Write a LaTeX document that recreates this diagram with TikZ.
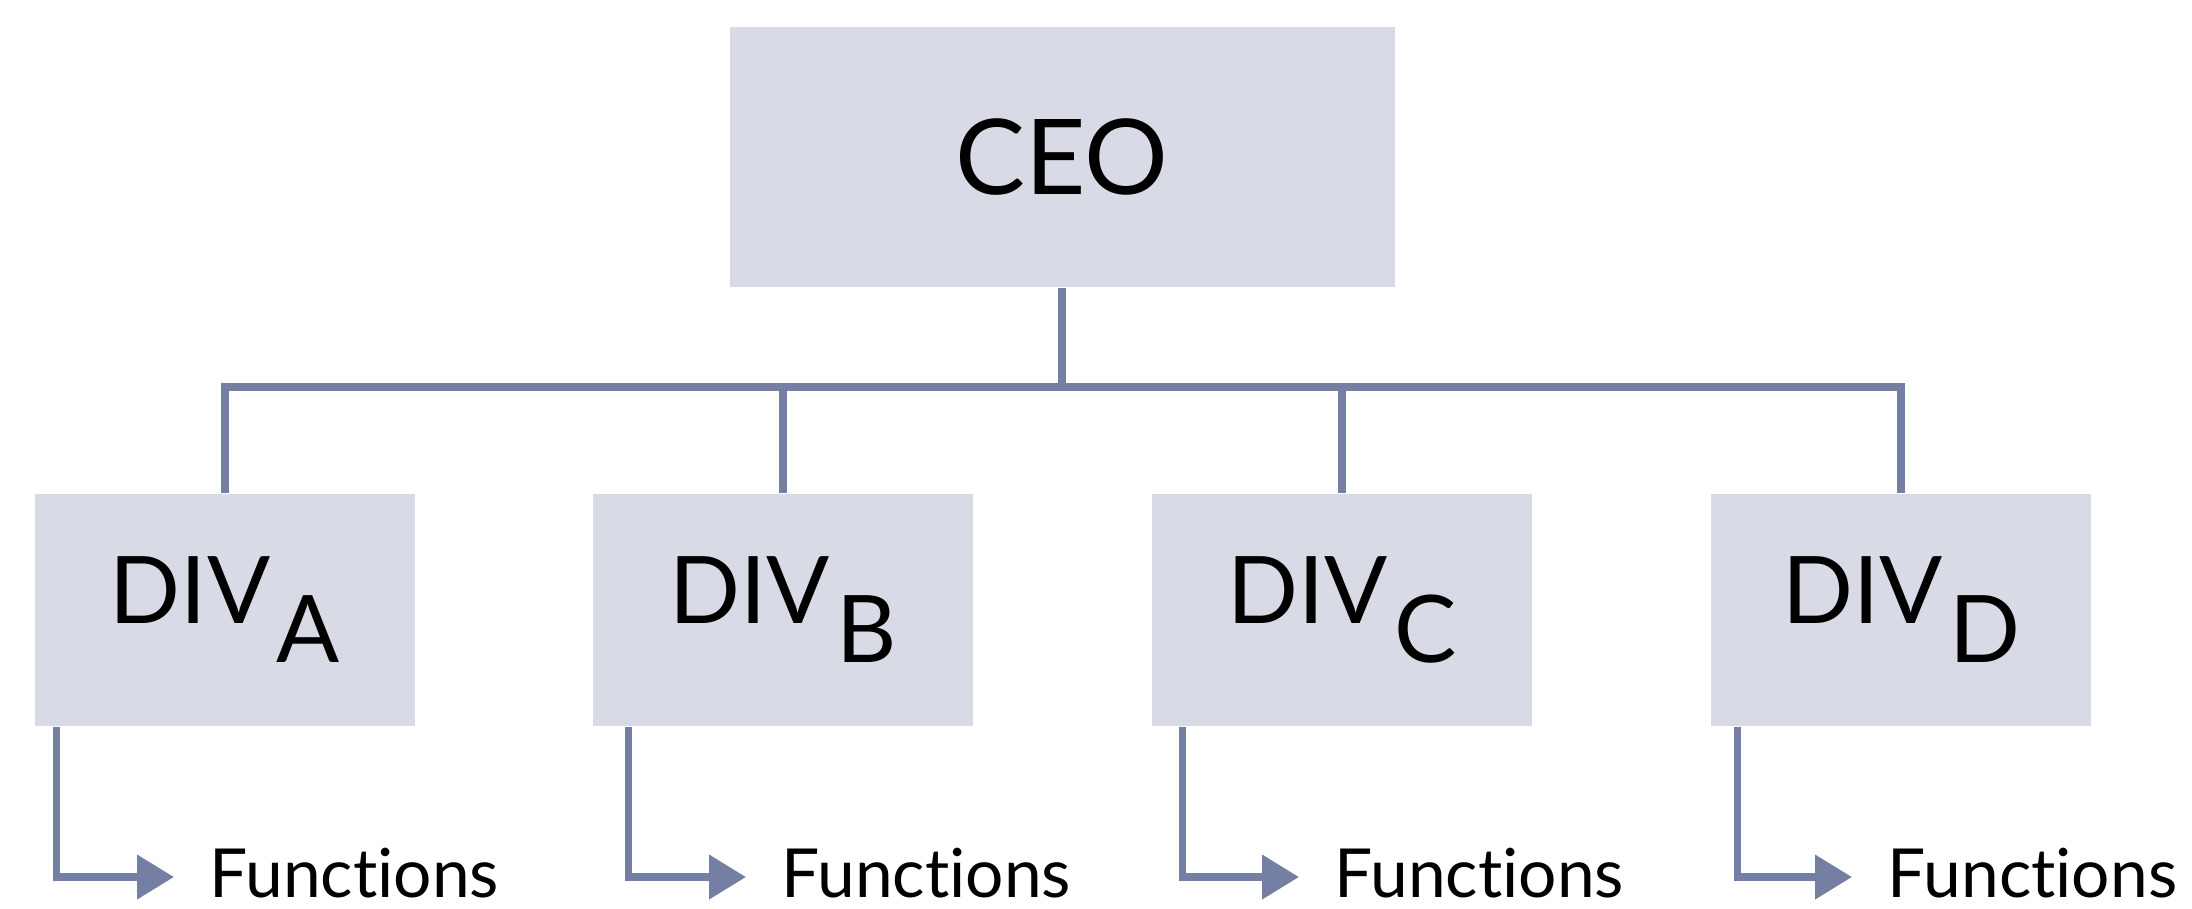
\documentclass[tikz,border=0pt]{standalone}
\usepackage{fontspec}
\setmainfont[Ligatures={NoCommon,NoDiscretionary,NoRare,NoContextual}]{Lato}
\usetikzlibrary{arrows.meta}
\definecolor{linecol}{RGB}{117,126,163}
\definecolor{boxfill}{RGB}{216,219,230}
\tikzset{
  box/.style={rectangle, fill=boxfill, inner sep=0pt, text=black},
  ceobox/.style={box, minimum width=199.5pt, minimum height=78pt, font=\fontsize{31.4}{36}\selectfont},
  divbox/.style={box, minimum width=114pt, minimum height=69.6pt, font=\fontsize{28}{32}\selectfont},
  funclabel/.style={inner sep=0pt, anchor=base west, text=black, font=\fontsize{20.3}{24}\selectfont},
  conn/.style={draw=linecol, line width=2.25pt},
  funcarrow/.style={conn, -{Triangle[length=11.1pt, width=12.9pt]}}
}
\newcommand{\divtext}[1]{DIV\hspace{2pt}\raisebox{-11.7pt}{#1}}
\begin{document}
\begin{tikzpicture}[x=0.3pt, y=-0.3pt]
\useasboundingbox (0,0) rectangle (2192,908);
\node[ceobox] (ceo) at (1062,157) {CEO};
\node[divbox] (divA) at (225,610) {\divtext{A}};
\node[divbox] (divB) at (783,610) {\divtext{B}};
\node[divbox] (divC) at (1342,610) {\divtext{C}};
\node[divbox] (divD) at (1901,610) {\divtext{D}};
\coordinate (bus) at (1062,387);
% tree connectors
\draw[conn] (ceo.south) -- (bus);
\draw[conn] (divA.north) |- (bus) -| (divD.north);
\draw[conn] (divB.north) -- (divB.north |- bus);
\draw[conn] (divC.north) -- (divC.north |- bus);
% functions
\node[funclabel] (fA) at (209,897) {Functions};
\node[funclabel] (fB) at (781,897) {Functions};
\node[funclabel] (fC) at (1334,897) {Functions};
\node[funclabel] (fD) at (1887,897) {Functions};
\draw[funcarrow] ([xshift=6.6pt]divA.south west) |- ([xshift=-10.5pt,yshift=6pt]fA.base west);
\draw[funcarrow] ([xshift=10.8pt]divB.south west) |- ([xshift=-10.5pt,yshift=6pt]fB.base west);
\draw[funcarrow] ([xshift=9.3pt]divC.south west) |- ([xshift=-10.5pt,yshift=6pt]fC.base west);
\draw[funcarrow] ([xshift=8.1pt]divD.south west) |- ([xshift=-10.5pt,yshift=6pt]fD.base west);
\end{tikzpicture}
\end{document}
